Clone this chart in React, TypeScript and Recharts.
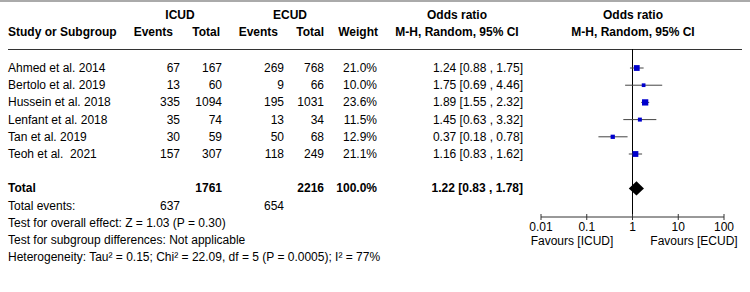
import React from 'react';
import { ScatterChart, Scatter, XAxis, YAxis, ErrorBar, ReferenceLine, ReferenceArea } from 'recharts';

const studies = ['Ahmed et al. 2014', 'Bertolo et al. 2019', 'Hussein et al. 2018', 'Lenfant et al. 2018', 'Tan et al. 2019', 'Teoh et al.  2021'];
const icudEvents = [67, 13, 335, 35, 30, 157];
const icudTotal = [167, 60, 1094, 74, 59, 307];
const ecudEvents = [269, 9, 195, 13, 50, 118];
const ecudTotal = [768, 66, 1031, 34, 68, 249];
const weights = [21.0, 10.0, 23.6, 11.5, 12.9, 21.1];
const orValues = [1.24, 1.75, 1.89, 1.45, 0.37, 1.16];
const ciLow = [0.88, 0.69, 1.55, 0.63, 0.18, 0.83];
const ciHigh = [1.75, 4.46, 2.32, 3.32, 0.78, 1.62];

const pooled = { or: 1.22, lo: 0.83, hi: 1.78 };
const pooledTotals = { icud: 1761, ecud: 2216, weight: '100.0%' };
const totalEvents = { icud: 637, ecud: 654 };
const axisTicks = [0.01, 0.1, 1, 10, 100];

const footLines = [
  'Test for overall effect: Z = 1.03 (P = 0.30)',
  'Test for subgroup differences: Not applicable',
  'Heterogeneity: Tau² = 0.15; Chi² = 22.09, df = 5 (P = 0.0005); I² = 77%',
];

const W = 750;
const H = 292;
const ROW0 = 68;
const ROW_H = 17.2;
const TOTAL_ROW = 7;
const font = '"Liberation Sans", Arial, Helvetica, sans-serif';

const rowY = (i: number) => ROW0 + ROW_H * i;
const fmtCI = (o: number, l: number, h: number) => `${o.toFixed(2)} [${l.toFixed(2)} , ${h.toFixed(2)}]`;

const data = studies.map((s, i) => ({
  name: s,
  x: orValues[i],
  y: i,
  w: weights[i],
  err: [orValues[i] - ciLow[i], ciHigh[i] - orValues[i]],
}));

type TxtProps = {
  x: number;
  y: number;
  align?: 'left' | 'right' | 'center';
  bold?: boolean;
  children: React.ReactNode;
};

function Txt({ x, y, align = 'left', bold, children }: TxtProps) {
  const base: React.CSSProperties = {
    position: 'absolute',
    top: y - 7,
    height: 14,
    lineHeight: '14px',
    fontSize: 12,
    fontFamily: font,
    fontWeight: bold ? 'bold' : 'normal',
    color: '#000',
    whiteSpace: 'pre',
  };
  if (align === 'right') return <div style={{ ...base, right: W - x, textAlign: 'right' }}>{children}</div>;
  if (align === 'center') return <div style={{ ...base, left: x - 100, width: 200, textAlign: 'center' }}>{children}</div>;
  return <div style={{ ...base, left: x }}>{children}</div>;
}

const Square = (props: any) => {
  const { cx, cy, payload } = props;
  const side = 1.8 + 0.19 * payload.w;
  return <rect x={cx - side / 2} y={cy - side / 2} width={side} height={side} fill="#0000cd" />;
};

const Diamond = (props: any) => {
  const { x, y, width, height } = props;
  const apex = width * ((Math.log(pooled.or) - Math.log(pooled.lo)) / (Math.log(pooled.hi) - Math.log(pooled.lo)));
  const pts = `${x},${y + height / 2} ${x + apex},${y} ${x + width},${y + height / 2} ${x + apex},${y + height}`;
  return <polygon points={pts} fill="#000" />;
};

// tick mark crossing the axis line, label below
const AxisTick = (props: any) => {
  const { x, y, payload } = props;
  const axisY = y - 5;
  return (
    <g>
      <line x1={x} x2={x} y1={axisY - 3} y2={axisY + 3} stroke="#333" />
      <text x={x} y={y} dy="0.71em" textAnchor="middle" fontSize={12} fontFamily={font} fill="#000">
        {String(payload.value)}
      </text>
    </g>
  );
};

export default function App() {
  const col = { ie: 180, it: 222, ee: 284, et: 324, wt: 377, or: 523 };
  return (
    <div style={{ position: 'absolute', left: 0, top: 0, width: W, height: H, background: '#fff', overflow: 'hidden' }}>
      <div style={{ position: 'absolute', left: 0, top: 0, width: W, height: 2, background: '#aaa' }} />

      <Txt x={180} y={15} align="center" bold>ICUD</Txt>
      <Txt x={290} y={15} align="center" bold>ECUD</Txt>
      <Txt x={457} y={15} align="center" bold>Odds ratio</Txt>
      <Txt x={633} y={15} align="center" bold>Odds ratio</Txt>
      <Txt x={8} y={32} bold>Study or Subgroup</Txt>
      <Txt x={173} y={32} align="right" bold>Events</Txt>
      <Txt x={220} y={32} align="right" bold>Total</Txt>
      <Txt x={278} y={32} align="right" bold>Events</Txt>
      <Txt x={324} y={32} align="right" bold>Total</Txt>
      <Txt x={378} y={32} align="right" bold>Weight</Txt>
      <Txt x={457} y={32} align="center" bold>M-H, Random, 95% CI</Txt>
      <Txt x={633} y={32} align="center" bold>M-H, Random, 95% CI</Txt>
      <div style={{ position: 'absolute', left: 8, top: 49, width: 734, height: 1, background: '#333' }} />

      {studies.map((s, i) => (
        <React.Fragment key={s}>
          <Txt x={8} y={rowY(i)}>{s}</Txt>
          <Txt x={col.ie} y={rowY(i)} align="right">{icudEvents[i]}</Txt>
          <Txt x={col.it} y={rowY(i)} align="right">{icudTotal[i]}</Txt>
          <Txt x={col.ee} y={rowY(i)} align="right">{ecudEvents[i]}</Txt>
          <Txt x={col.et} y={rowY(i)} align="right">{ecudTotal[i]}</Txt>
          <Txt x={col.wt} y={rowY(i)} align="right">{weights[i].toFixed(1)}%</Txt>
          <Txt x={col.or} y={rowY(i)} align="right">{fmtCI(orValues[i], ciLow[i], ciHigh[i])}</Txt>
        </React.Fragment>
      ))}

      <Txt x={8} y={rowY(TOTAL_ROW)} bold>Total</Txt>
      <Txt x={col.it} y={rowY(TOTAL_ROW)} align="right" bold>{pooledTotals.icud}</Txt>
      <Txt x={col.et} y={rowY(TOTAL_ROW)} align="right" bold>{pooledTotals.ecud}</Txt>
      <Txt x={col.wt} y={rowY(TOTAL_ROW)} align="right" bold>{pooledTotals.weight}</Txt>
      <Txt x={col.or} y={rowY(TOTAL_ROW)} align="right" bold>{fmtCI(pooled.or, pooled.lo, pooled.hi)}</Txt>

      <Txt x={8} y={rowY(8)}>Total events:</Txt>
      <Txt x={col.ie} y={rowY(8)} align="right">{totalEvents.icud}</Txt>
      <Txt x={col.ee} y={rowY(8)} align="right">{totalEvents.ecud}</Txt>
      {footLines.map((t, i) => (
        <Txt key={t} x={8} y={rowY(9 + i)}>{t}</Txt>
      ))}

      <Txt x={572} y={241} align="center">Favours [ICUD]</Txt>
      <Txt x={694} y={241} align="center">Favours [ECUD]</Txt>

      <div style={{ position: 'absolute', left: 0, top: 0 }}>
        <ScatterChart width={W} height={H} margin={{ top: 49, right: 26, bottom: 45, left: 541 }}>
          <XAxis
            type="number"
            dataKey="x"
            scale="log"
            domain={[0.01, 100]}
            ticks={axisTicks}
            allowDataOverflow
            height={30}
            tickSize={3}
            tickMargin={2}
            tick={<AxisTick />}
            axisLine={{ stroke: '#333' }}
            tickLine={false}
          />
          <YAxis type="number" dataKey="y" domain={[-1.105, 8.663]} reversed hide allowDataOverflow />
          <ReferenceLine x={1} stroke="#000" strokeWidth={1} />
          <ReferenceArea
            x1={pooled.lo}
            x2={pooled.hi}
            y1={TOTAL_ROW - 0.42}
            y2={TOTAL_ROW + 0.42}
            shape={Diamond}
            ifOverflow="visible"
          />
          <Scatter data={data} shape={Square} isAnimationActive={false}>
            <ErrorBar dataKey="err" direction="x" width={0} stroke="#444" strokeWidth={1} />
          </Scatter>
        </ScatterChart>
      </div>
    </div>
  );
}
